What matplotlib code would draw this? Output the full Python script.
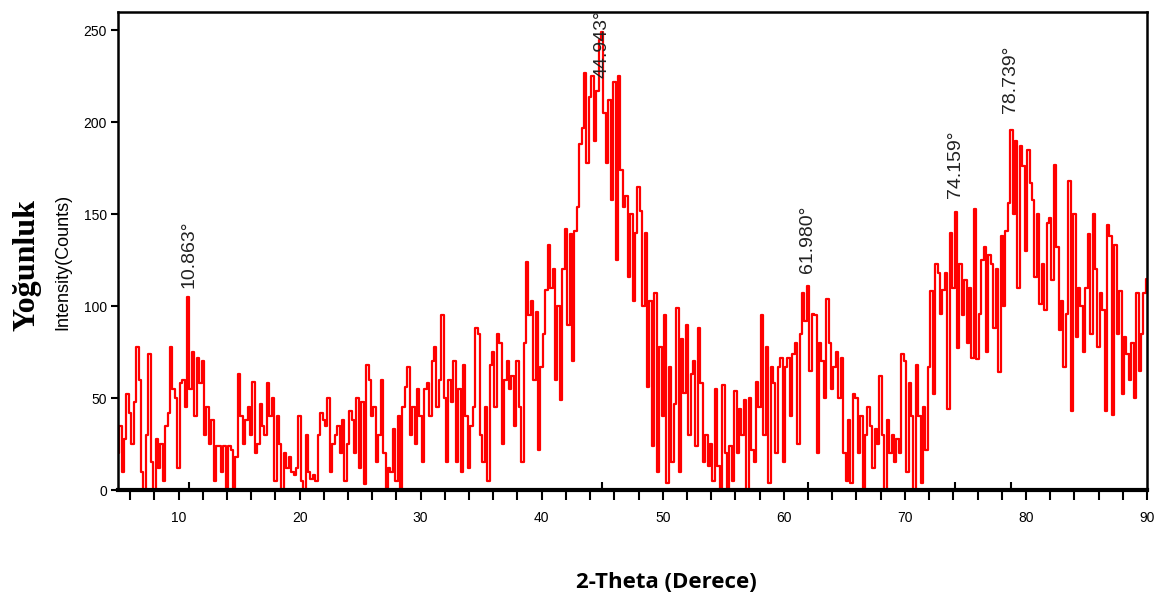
import numpy as np
import matplotlib
matplotlib.use("Agg")
import matplotlib.pyplot as plt

plt.rcParams['font.family'] = ['Liberation Sans', 'DejaVu Sans']

# XRD scan, 0.2 degree steps starting at 5 degrees
theta_start = 5.0
theta_step = 0.2
counts = [
    20, 35, 10, 28, 52,   42, 25, 48, 78, 60,   10, 0, 30, 74, 15,   0, 28, 12, 25, 5,
    35, 42, 78, 55, 50,   12, 58, 60, 45, 105,  55, 75, 40, 72, 58,   70, 30, 45, 25, 38,
    5, 24, 24, 10, 24,    0, 24, 22, 0, 18,     63, 40, 25, 38, 45,   30, 59, 20, 25, 47,
    35, 30, 58, 40, 50,   5, 40, 25, 0, 20,     12, 18, 10, 8, 12,    40, 5, 0, 30, 10,
    6, 8, 5, 30, 42,      38, 35, 50, 10, 25,   30, 35, 20, 38, 5,    25, 43, 38, 20, 50,
    12, 48, 3, 68, 60,    40, 45, 15, 30, 60,   20, 0, 12, 10, 33,    5, 40, 0, 45, 56,
    67, 30, 45, 25, 55,   40, 15, 55, 58, 40,   70, 78, 45, 60, 95,   50, 15, 60, 48, 70,
    15, 55, 10, 68, 40,   12, 35, 45, 88, 85,   30, 15, 45, 5, 68,    75, 45, 85, 80, 25,
    60, 70, 55, 62, 35,   70, 45, 15, 80, 124,  95, 103, 60, 97, 22,  67, 85, 109, 133, 110,
    120, 60, 100, 49, 120, 142, 90, 139, 70, 141, 154, 188, 197, 227, 178, 214, 225, 190, 217, 245,
    249, 205, 178, 212, 158, 222, 125, 225, 174, 154, 160, 116, 150, 103, 140, 165, 152, 100, 140, 56,
    103, 24, 107, 10, 78, 40, 95, 4, 67, 15,  47, 99, 10, 82, 53,   90, 30, 63, 70, 24,
    88, 58, 15, 30, 13,   25, 5, 55, 13, 0,    57, 20, 0, 24, 5,     54, 20, 44, 30, 49,
    0, 50, 22, 15, 59,    45, 95, 30, 78, 4,    67, 58, 20, 67, 72,   15, 67, 72, 40, 74,
    80, 25, 85, 107, 92,  111, 65, 96, 95, 20,  80, 70, 50, 104, 80,  55, 67, 75, 50, 72,
    20, 5, 38, 4, 52,     50, 20, 40, 0, 30,    45, 35, 12, 33, 25,   62, 30, 0, 38, 20,
    30, 15, 28, 20, 74,   70, 10, 58, 40, 0,    68, 40, 4, 45, 22,    67, 108, 52, 123, 118,
    96, 109, 118, 44, 140, 110, 151, 77, 123, 95, 114, 80, 110, 72, 153, 71, 96, 125, 132, 75,
    128, 123, 88, 120, 64, 138, 100, 141, 156, 196, 150, 190, 110, 187, 176, 130, 185, 167, 158, 116,
    150, 101, 123, 98, 145, 148, 114, 177, 132, 87, 103, 67, 96, 168, 43, 150, 83, 110, 100, 75,
    110, 139, 85, 150, 120, 78, 107, 98, 43, 144, 138, 41, 133, 85, 108, 52, 83, 74, 60, 80,
    50, 107, 65, 85, 107, 115,
]

peak_pos = [10.863, 44.943, 61.980, 74.159, 78.739]
peak_label_y = [110, 224, 118, 159, 205]

two_theta = theta_start + theta_step * np.arange(len(counts))

fig = plt.figure(figsize=(11.7, 6.07), dpi=100)
ax = fig.add_axes([118 / 1170, 117 / 607, 1029 / 1170, 478 / 607])

ax.plot(two_theta, counts, color='#ff0000', lw=1.6, drawstyle='steps-mid')

# short marker ticks at the indexed peaks
ax.vlines(peak_pos, 0, 0.017, transform=ax.get_xaxis_transform(),
          color='black', lw=1.5)
for p, ly in zip(peak_pos, peak_label_y):
    ax.text(p, ly, f"{p:.3f}°", rotation=90, ha='center', va='bottom',
            fontsize=14, color='#222222')

ax.set_xlim(5, 90)
ax.set_ylim(0, 260)
xt = np.arange(6, 91, 2)
ax.set_xticks(xt)
ax.set_xticklabels([str(v) if v % 10 == 0 else '' for v in xt])
ax.set_yticks([0, 50, 100, 150, 200, 250])

ax.tick_params(axis='x', direction='out', length=7, width=1.5, pad=8,
               labelsize=10)
ax.tick_params(axis='y', direction='out', length=5, width=1.5, pad=3,
               labelsize=10)

for side in ['left', 'top', 'right']:
    ax.spines[side].set_linewidth(1.8)
ax.spines['bottom'].set_linewidth(3)

fig.text(63 / 1170, 1 - 262 / 607, 'Intensity(Counts)', rotation=90,
         ha='center', va='center', fontsize=13)
fig.text(27 / 1170, 1 - 265 / 607, 'Yoğunluk', rotation=90,
         ha='center', va='center', fontsize=23, fontweight='bold',
         family=['Liberation Serif', 'DejaVu Serif'])
fig.text(666 / 1170, 1 - 583 / 607, '2-Theta (Derece)', ha='center',
         va='center', fontsize=16, fontweight='bold',
         family=['Open Sans', 'DejaVu Sans'])

fig.savefig('out.png', dpi=100, facecolor='white')
